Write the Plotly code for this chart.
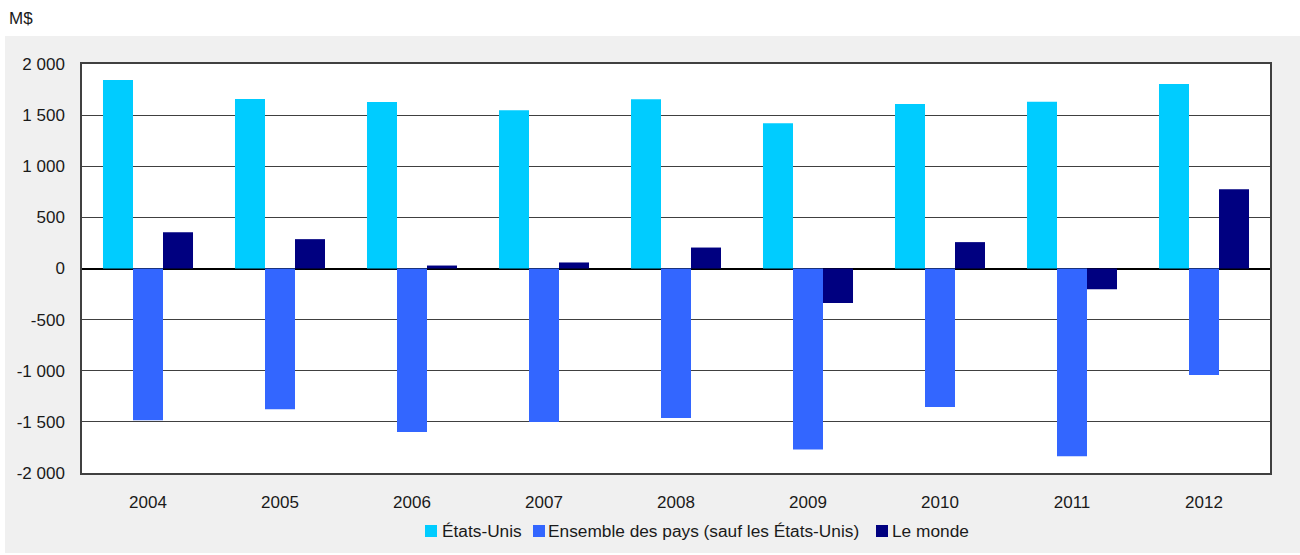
import plotly.graph_objects as go

years = ["2004", "2005", "2006", "2007", "2008", "2009", "2010", "2011", "2012"]
etats_unis = [1843, 1657, 1628, 1548, 1655, 1420, 1608, 1630, 1804]
ensemble = [-1483, -1376, -1600, -1502, -1463, -1769, -1355, -1837, -1041]
monde = [355, 287, 29, 59, 205, -337, 258, -203, 776]

series_names = ["États-Unis", "Ensemble des pays (sauf les États-Unis)", "Le monde"]
colors = ["#00CCFF", "#3366FF", "#000080"]

y_tickvals = [-2000, -1500, -1000, -500, 0, 500, 1000, 1500, 2000]
y_ticktext = ["-2 000", "-1 500", "-1 000", "-500", "0", "500", "1 000", "1 500", "2 000"]

font_family = "Arial, 'Liberation Sans', sans-serif"
text_color = "#1a1a1a"

fig = go.Figure()
for name, vals, col in zip(series_names, [etats_unis, ensemble, monde], colors):
    fig.add_trace(go.Bar(x=years, y=vals, name=name, showlegend=False,
                         marker=dict(color=col, line=dict(width=0))))

# body margin removed by post_script, so figure pixels == screen pixels
W, H = 1300, 555
SL, ST, SR, SB = 82, 64, 1270, 473  # plot area on screen
L, T, R, B = SL, ST, W - SR, H - SB
pw, ph = SR - SL, SB - ST

def px_x(p):
    return (p - SL) / pw

def px_y(p):
    return (SB - p) / ph

fig.add_shape(type="rect", xref="paper", yref="paper",
              x0=px_x(5), x1=px_x(1300), y0=px_y(553), y1=px_y(36),
              fillcolor="#F0F0F0", line=dict(width=0), layer="below")
fig.add_shape(type="rect", xref="paper", yref="paper",
              x0=0, x1=1, y0=0, y1=1,
              fillcolor="white", line=dict(width=0), layer="below")

fig.add_annotation(text="M$", xref="paper", yref="paper",
                   x=px_x(7), y=px_y(18), xanchor="left", yanchor="middle",
                   showarrow=False, font=dict(size=17, color=text_color, family=font_family))

# custom legend (swatch left edges and text left edges, screen px)
legend_swatch_x = [425, 533, 876]
legend_text_x = [441, 547, 891]
legend_y = 531
sw = 12
for name, col, sx, tx in zip(series_names, colors, legend_swatch_x, legend_text_x):
    fig.add_shape(type="rect", xref="paper", yref="paper",
                  x0=px_x(sx), x1=px_x(sx + sw), y0=px_y(legend_y + sw / 2), y1=px_y(legend_y - sw / 2),
                  fillcolor=col, line=dict(width=0))
    fig.add_annotation(text=name, xref="paper", yref="paper",
                       x=px_x(tx), y=px_y(legend_y), xanchor="left", yanchor="middle",
                       showarrow=False, xshift=-1,
                       font=dict(size=17.3, color=text_color, family=font_family))

fig.update_layout(
    width=W, height=H,
    margin=dict(l=L, r=R, t=T, b=B),
    paper_bgcolor="white", plot_bgcolor="white",
    barmode="group", bargap=0.318, bargroupgap=0,
    font=dict(family=font_family, size=17, color=text_color),
    showlegend=False,
)
fig.update_xaxes(showline=True, linecolor="#404040", linewidth=1.5, mirror=True,
                 showgrid=False, ticks="", ticklabelstandoff=13,
                 tickfont=dict(size=17, color=text_color))
fig.update_yaxes(range=[-2000, 2000], tickvals=y_tickvals, ticktext=y_ticktext,
                 showline=True, linecolor="#404040", linewidth=1.5, mirror=True,
                 showgrid=True, gridcolor="#404040", gridwidth=1,
                 zeroline=True, zerolinecolor="black", zerolinewidth=1.5,
                 ticks="", ticklabelstandoff=12,
                 tickfont=dict(size=17, color=text_color))

fig.write_html("out.html", config={"displayModeBar": False},
               post_script="document.body.style.margin='0';document.body.style.overflow='hidden';")
